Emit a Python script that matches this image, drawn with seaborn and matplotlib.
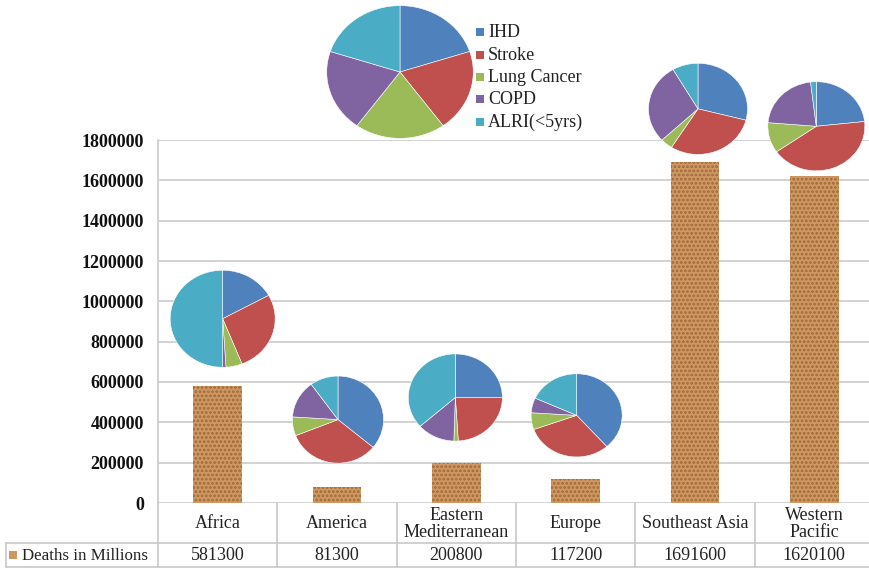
import matplotlib
matplotlib.use("Agg")
import matplotlib.pyplot as plt
import seaborn as sns
import numpy as np
import pandas as pd

# ---------------- data ----------------
regions = ["Africa", "America", "Eastern\nMediterranean", "Europe", "Southeast Asia", "Western\nPacific"]
deaths = [581300, 81300, 200800, 117200, 1691600, 1620100]
series_name = "Deaths in Millions"
causes = ["IHD", "Stroke", "Lung Cancer", "COPD", "ALRI(<5yrs)"]
share_africa = [17, 27, 5, 1, 50]
share_america = [36, 33, 7, 14, 10]
share_em = [25, 24, 1.5, 13, 36.5]
share_europe = [38.5, 31, 6.5, 5.8, 18.2]
share_seasia = [29, 30, 4, 28.6, 8.4]
share_wpacific = [23.3, 42, 11, 21.8, 1.9]
share_legend = [20, 20, 20, 20, 20]
yticks = [0, 200000, 400000, 600000, 800000, 1000000, 1200000, 1400000, 1600000, 1800000]

shares = [share_africa, share_america, share_em, share_europe, share_seasia, share_wpacific]

# ---------------- layout / style ----------------
W, H = 870, 569
cause_colors = ["#4F81BD", "#C0504D", "#9BBB59", "#8064A2", "#4BACC6"]
bar_color = "#CF9862"
hatch_color = "#9E6838"
grid_color = "#CFCFCF"
pie_gap = [18, 23, 21, 22, 7, 5]          # px between bar top and pie bottom
pie_dx = [5, 1, -1, 1, 3, 2]               # px horizontal offset
pie_r = [(53, 49), (46, 44), (47.5, 44), (46, 42), (50, 46), (49, 45)]
fs = 13

sns.set_theme(style="white")
plt.rcParams["font.family"] = ["Liberation Serif", "DejaVu Serif"]
plt.rcParams["hatch.linewidth"] = 1.3

fig = plt.figure(figsize=(W / 100, H / 100), dpi=100)
fig.patch.set_facecolor("white")

left_px, right_px, top_px, bottom_px = 158, 874, 140, 503
ax = fig.add_axes([left_px / W, (H - bottom_px) / H, (right_px - left_px) / W, (bottom_px - top_px) / H])

df = pd.DataFrame({"region": regions, "deaths": deaths})
sns.barplot(data=df, x="region", y="deaths", ax=ax, color=bar_color, width=0.41,
            saturation=1, edgecolor=hatch_color, linewidth=0, zorder=3)
for p in ax.patches:
    p.set_hatch("....")
    p.set_edgecolor(hatch_color)
    p.set_linewidth(0)

ax.set_xlim(-0.5, 5.5)
ax.set_ylim(0, 1800000)
ax.set_yticks(yticks)
ax.set_yticklabels([str(v) for v in yticks], fontsize=fs, fontweight="bold", color="#111111")
ax.tick_params(axis="y", length=0, pad=10)
ax.set_xticks([])
ax.set_xlabel("")
ax.set_ylabel("")
ax.yaxis.grid(True, color=grid_color, linewidth=1.3, zorder=0)
ax.set_axisbelow(True)
for s in ["top", "right", "bottom"]:
    ax.spines[s].set_visible(False)
ax.spines["left"].set_color(grid_color)
ax.spines["left"].set_linewidth(1.3)

fig.canvas.draw()

# ---------------- pies above bars ----------------
def add_pie(cx, cy, rx, ry, vals):
    pa = fig.add_axes([(cx - rx) / W, (cy - ry) / H, 2 * rx / W, 2 * ry / H])
    wedges, _ = pa.pie(vals, colors=cause_colors, startangle=90, counterclock=False,
                       radius=1, wedgeprops=dict(edgecolor="white", linewidth=0.4))
    pa.set_aspect("auto")
    pa.set_xlim(-1.01, 1.01)
    pa.set_ylim(-1.01, 1.01)
    pa.axis("off")
    return wedges

for i, vals in enumerate(shares):
    bx, by = ax.transData.transform((i, deaths[i]))
    rx, ry = pie_r[i]
    cx = bx + pie_dx[i]
    cy = by + pie_gap[i] + ry
    add_pie(cx, cy, rx, ry, vals)

# legend pie
add_pie(400, H - 72, 74, 67, share_legend)

# ---------------- overlay: legend + data table ----------------
ov = fig.add_axes([0, 0, 1, 1])
ov.set_xlim(0, W)
ov.set_ylim(H, 0)
ov.axis("off")
ov.patch.set_alpha(0)

leg_y = [32, 55, 77, 99, 122]
for name, col, yy in zip(causes, cause_colors, leg_y):
    ov.add_patch(plt.Rectangle((476, yy - 4), 8, 8, color=col, lw=0))
    ov.text(488, yy, name, fontsize=fs, va="center", ha="left", color="#222222")

# table
seps = [ax.transData.transform((i - 0.5, 0))[0] for i in range(7)]
row1_top, row1_bot, row2_bot = 503, 543, 567
tbl_col = "#C8C8C8"
ov.plot([6, W + 10], [row1_bot, row1_bot], color=tbl_col, lw=1.2)
ov.plot([6, W + 10], [row2_bot, row2_bot], color=tbl_col, lw=1.2)
ov.plot([6, 6], [row1_bot, row2_bot], color=tbl_col, lw=1.2)
for sx in seps:
    ov.plot([sx, sx], [row1_top, row2_bot], color=tbl_col, lw=1.2)

for i, (reg, val) in enumerate(zip(regions, deaths)):
    cx = ax.transData.transform((i, 0))[0]
    ov.text(cx, (row1_top + row1_bot) / 2 + 1, reg, ha="center", va="center",
            fontsize=fs, color="#222222", linespacing=1.0)
    ov.text(cx, (row1_bot + row2_bot) / 2 + 1, str(val), ha="center", va="center",
            fontsize=fs, color="#222222")

ov.add_patch(plt.Rectangle((9, 551), 8, 8, color=bar_color, lw=0))
ov.text(22, (row1_bot + row2_bot) / 2 + 1, series_name, ha="left", va="center",
        fontsize=12.2, color="#222222")

fig.savefig("out.png", dpi=100)
